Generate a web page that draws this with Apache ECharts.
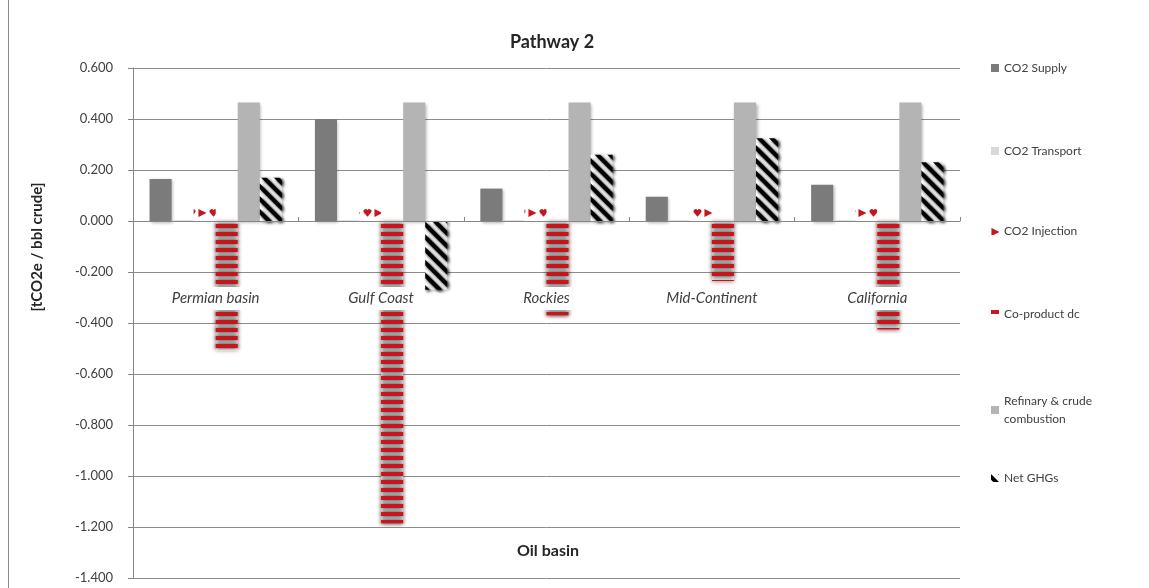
<!DOCTYPE html>
<html>
<head>
<meta charset="utf-8">
<title>Pathway 2</title>
<script src="https://cdn.jsdelivr.net/npm/echarts@6/dist/echarts.min.js"></script>
<style>
  html, body { margin: 0; padding: 0; background: #fff; }
  #chart { width: 1149px; height: 588px; }
</style>
</head>
<body>
<div id="chart"></div>
<script>
// values
const basins = ['Permian basin', 'Gulf Coast', 'Rockies', 'Mid-Continent', 'California'];
const co2Supply = [0.165, 0.400, 0.127, 0.095, 0.142];
const co2Transport = [0.003, 0.003, 0.003, 0.003, 0.003];
const co2Injection = [0.050, 0.050, 0.050, 0.050, 0.050];
const coProduct = [-0.510, -1.185, -0.370, -0.235, -0.425];
const refinery = [0.465, 0.465, 0.465, 0.465, 0.465];
const netGhg = [0.170, -0.270, 0.260, 0.325, 0.230];
const seriesNames = ['CO2 Supply', 'CO2 Transport', 'CO2 Injection', 'Co-product dc', 'Refinary & crude combustion', 'Net GHGs'];
const legendCenters = [62, 145, 225, 308, 402, 472];

const font = 'Lato, "Open Sans", sans-serif';
const red = '#c4161c';
const softShadow = { shadowColor: 'rgba(0,0,0,0.3)', shadowBlur: 3, shadowOffsetX: 1.5, shadowOffsetY: 1.5 };

const chart = echarts.init(document.getElementById('chart'));

const legends = seriesNames.map((name, i) => ({
  data: [name],
  orient: 'vertical',
  left: 986,
  top: legendCenters[i] - (i === 4 ? 15 : 8),
  itemWidth: 8,
  itemHeight: 8,
  itemGap: 0,
  icon: 'rect',
  selectedMode: false,
  formatter: n => n === 'Refinary & crude combustion' ? 'Refinary & crude\ncombustion' : n,
  textStyle: { fontFamily: font, fontSize: 12, color: '#404040', lineHeight: 18 }
}));

const option = {
  animation: false,
  backgroundColor: '#fff',
  textStyle: { fontFamily: font },
  title: {
    text: 'Pathway 2',
    left: 547,
    textAlign: 'center',
    top: 28,
    textStyle: { fontFamily: font, fontSize: 18, fontWeight: 'bold', color: '#262626' }
  },
  legend: legends,
  grid: { left: 133, right: 189, top: 68, bottom: 10, outerBoundsMode: 'none' },
  xAxis: [
    {
      // category labels, lifted up into the plot like the original
      type: 'category',
      data: basins,
      position: 'bottom',
      z: 10,
      axisLine: { show: false, onZero: false },
      axisTick: { show: false },
      axisLabel: {
        margin: -291,
        fontFamily: font,
        fontSize: 15,
        fontStyle: 'italic',
        color: '#404040',
        backgroundColor: '#fff',
        padding: [4, 2, 4, 2]
      }
    },
    {
      // zero line with the category ticks
      type: 'category',
      data: basins,
      z: 9,
      axisLine: { onZero: true, lineStyle: { color: '#868686', width: 1 } },
      axisTick: { show: true, length: 4, inside: false, lineStyle: { color: '#868686' } },
      axisLabel: { show: false }
    }
  ],
  yAxis: {
    type: 'value',
    min: -1.4,
    max: 0.6,
    interval: 0.2,
    axisLine: { show: true, lineStyle: { color: '#868686' } },
    axisTick: { show: true, length: 5, lineStyle: { color: '#868686' } },
    splitLine: { lineStyle: { color: '#8c8c8c', width: 1 } },
    axisLabel: {
      margin: 20,
      fontFamily: font,
      fontSize: 13,
      color: '#404040',
      formatter: v => v.toFixed(3)
    }
  },
  graphic: [
    {
      type: 'line',
      shape: { x1: 8.5, y1: 0, x2: 8.5, y2: 588 },
      style: { stroke: '#8c8c8c', lineWidth: 1 }
    },
    {
      type: 'text',
      x: 37,
      y: 247,
      rotation: Math.PI / 2,
      style: {
        text: '[tCO2e / bbl crude]',
        fontFamily: font,
        fontSize: 15,
        fontWeight: 'bold',
        fill: '#262626',
        align: 'center',
        verticalAlign: 'middle'
      }
    },
    {
      type: 'text',
      x: 548,
      y: 551,
      z: 20,
      style: {
        text: 'Oil basin',
        fontFamily: font,
        fontSize: 16,
        fontWeight: 'bold',
        fill: '#262626',
        align: 'center',
        verticalAlign: 'middle'
      }
    }
  ],
  series: [
    {
      name: seriesNames[0], type: 'bar', data: co2Supply,
      barCategoryGap: '20%', barGap: '0%',
      itemStyle: Object.assign({ color: '#7b7b7b' }, softShadow)
    },
    {
      name: seriesNames[1], type: 'bar', data: co2Transport,
      itemStyle: { color: '#d9d9d9' }
    },
    {
      name: seriesNames[2], type: 'bar', data: co2Injection,
      itemStyle: {
        color: '#fff',
        decal: {
          symbol: ['path://M0,0L10,5L0,10Z', 'path://M10,18L2,9A4,4 0 0 1 10,4A4,4 0 0 1 18,9Z'],
          symbolSize: 0.9,
          dashArrayX: [[9, 2]],
          dashArrayY: [10, 3],
          color: red,
          rotation: 0
        }
      }
    },
    {
      name: seriesNames[3], type: 'bar', data: coProduct,
      itemStyle: {
        color: '#fff',
        shadowColor: 'rgba(210,40,40,0.35)', shadowBlur: 4,
        decal: {
          symbol: 'rect',
          symbolSize: 1,
          dashArrayX: [1, 0],
          dashArrayY: [4, 4],
          color: red,
          rotation: 0
        }
      }
    },
    {
      name: seriesNames[4], type: 'bar', data: refinery,
      itemStyle: Object.assign({ color: '#b4b4b4' }, softShadow)
    },
    {
      name: seriesNames[5], type: 'bar', data: netGhg,
      itemStyle: Object.assign({
        color: '#fff',
        decal: {
          symbol: 'rect',
          symbolSize: 1,
          dashArrayX: [1, 0],
          dashArrayY: [4, 5],
          color: '#000',
          rotation: Math.PI / 4
        }
      }, softShadow)
    }
  ]
};

chart.setOption(option);
</script>
</body>
</html>
